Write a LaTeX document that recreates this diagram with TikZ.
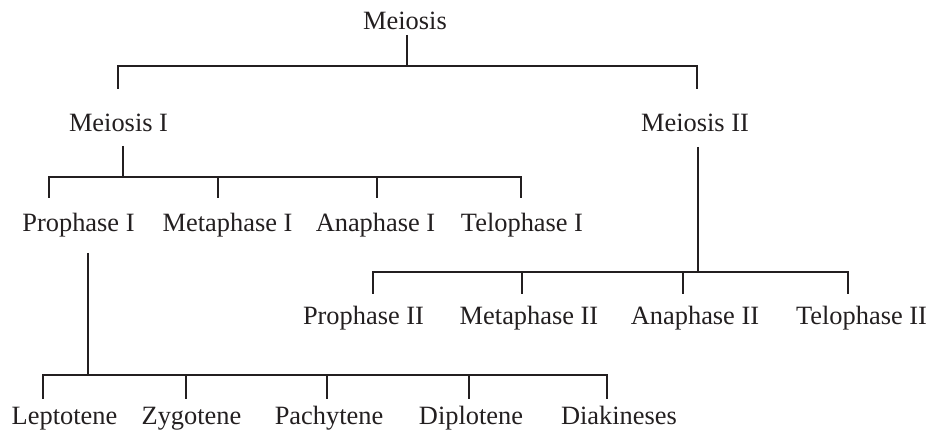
\documentclass[tikz,border=0pt]{standalone}
\usepackage{fontspec}
\setmainfont{Liberation Serif}
\usepackage{tikz}
\usepackage{xcolor}
\definecolor{ink}{RGB}{35,31,32}

\begin{document}
\begin{tikzpicture}[x=1pt, y=1pt,
    phase/.style={anchor=base, inner sep=0pt, text=ink, font=\fontsize{26.4}{30}\selectfont},
    link/.style={draw=ink, line width=1.8pt}]
    \useasboundingbox (0,0) rectangle (932,434);

    % Top
    \node[phase] (meiosis) at (405,404) {Meiosis};

    % Meiosis I and II
    \node[phase] (meiosisI) at (118.5,302) {Meiosis I};
    \node[phase] (meiosisII) at (695,302) {Meiosis II};

    % Stages of Meiosis I
    \node[phase] (proI) at (78.5,202) {Prophase I};
    \node[phase] (metI) at (227.5,202) {Metaphase I};
    \node[phase] (anaI) at (375.5,202) {Anaphase I};
    \node[phase] (telI) at (522,202) {Telophase I};

    % Stages of Meiosis II
    \node[phase] (proII) at (363.5,109) {Prophase II};
    \node[phase] (metII) at (529,109) {Metaphase II};
    \node[phase] (anaII) at (695,109) {Anaphase II};
    \node[phase] (telII) at (861.5,109) {Telophase II};

    % Substages of Prophase I
    \node[phase] (lepto) at (64.5,10) {Leptotene};
    \node[phase] (zygo) at (191.5,10) {Zygotene};
    \node[phase] (pachy) at (329,10) {Pachytene};
    \node[phase] (diplo) at (471,10) {Diplotene};
    \node[phase] (diaki) at (619,10) {Diakineses};

    % Junctions
    \coordinate (jroot) at (407,368);
    \coordinate (jI) at (123,257);
    \coordinate (jII) at (698,162);
    \coordinate (jpro) at (88,59);

    % Lines
    \draw[link] (meiosis.base -| jroot) ++(0,-5) -- (jroot);
    \draw[link] (jroot) -| ([xshift=-0.5pt, yshift=43pt]meiosisI.base);
    \draw[link] (jroot) -| ([xshift=2pt, yshift=43pt]meiosisII.base);

    \draw[link] (meiosisI.base -| jI) ++(0,-14) -- (jI);
    \draw[link] (jI) -| ([xshift=-29.5pt, yshift=34pt]proI.base);
    \draw[link] (jI) -| ([xshift=-9.5pt, yshift=34pt]metI.base);
    \draw[link] (jI) -| ([xshift=1.5pt, yshift=34pt]anaI.base);
    \draw[link] (jI) -| ([xshift=-1pt, yshift=34pt]telI.base);

    \draw[link] (meiosisII.base -| jII) ++(0,-15) -- (jII);
    \draw[link] (jII) -| ([xshift=9.5pt, yshift=31pt]proII.base);
    \draw[link] (jII) -| ([xshift=-7pt, yshift=31pt]metII.base);
    \draw[link] (jII) -| ([xshift=-12pt, yshift=31pt]anaII.base);
    \draw[link] (jII) -| ([xshift=-13.5pt, yshift=31pt]telII.base);

    \draw[link] (proI.base -| jpro) ++(0,-21) -- (jpro);
    \draw[link] (jpro) -| ([xshift=-21.5pt, yshift=25pt]lepto.base);
    \draw[link] (jpro) -| ([xshift=-5.5pt, yshift=25pt]zygo.base);
    \draw[link] (jpro) -| ([xshift=-2pt, yshift=25pt]pachy.base);
    \draw[link] (jpro) -| ([xshift=-2pt, yshift=25pt]diplo.base);
    \draw[link] (jpro) -| ([xshift=-12pt, yshift=25pt]diaki.base);
\end{tikzpicture}
\end{document}
